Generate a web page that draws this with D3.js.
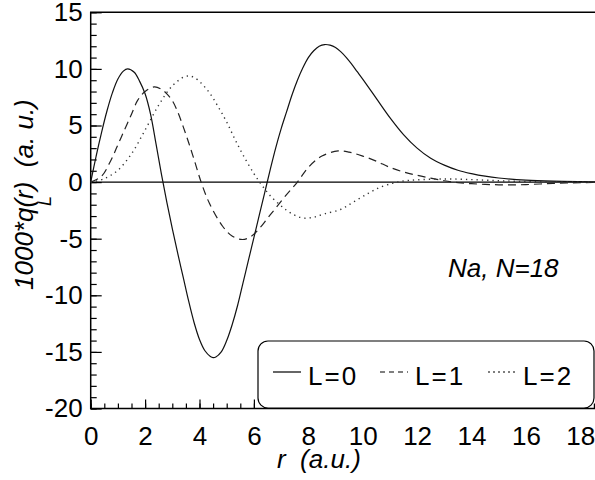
<!DOCTYPE html>
<meta charset="utf-8">
<head>
    <script src="https://d3js.org/d3.v7.min.js"></script>
</head>
<style>
    body { margin: 0; background: white; }
    text { font-family: 'Liberation Sans', Arial, sans-serif; fill: black; }
    .tick-label { font-size: 26px; }
    .axis-label { font-size: 26px; font-style: italic; white-space: pre; }
    .legend-label { font-size: 26px; letter-spacing: 2px; }
</style>
<div id="my_dataviz"></div>
<script>

    // radius grid (a.u.) and the three curves
    var rL0 = [0, 0.2, 0.4, 0.6, 0.8, 1.0, 1.2, 1.36, 1.6, 1.8, 2.0, 2.2, 2.4, 2.6, 2.8, 3.0, 3.2, 3.4, 3.6, 3.8, 4.0, 4.2, 4.4, 4.5, 4.6, 4.8, 5.0, 5.2, 5.4, 5.6, 5.8, 6.0, 6.2, 6.4, 6.6, 6.8, 7.0, 7.2, 7.4, 7.6, 7.8, 8.0, 8.2, 8.4, 8.6, 8.8, 9.0, 9.2, 9.4, 9.6, 9.8, 10.0, 10.5, 11.0, 11.5, 12.0, 12.5, 13.0, 13.5, 14.0, 14.5, 15.0, 16.0, 17.0, 18.0, 19.0];
    var qL0 = [0, 2.3, 4.4, 6.3, 7.9, 9.1, 9.8, 10.0, 9.7, 8.9, 7.8, 6.0, 3.4, 0.7, -1.8, -4.1, -6.3, -8.4, -10.5, -12.4, -13.9, -14.9, -15.4, -15.5, -15.45, -15.0, -14.0, -12.6, -10.9, -8.9, -6.9, -4.9, -2.9, -0.9, 1.1, 3.0, 4.7, 6.2, 7.7, 9.0, 10.1, 11.0, 11.6, 12.0, 12.15, 12.1, 11.9, 11.5, 11.0, 10.4, 9.75, 9.1, 7.4, 5.7, 4.2, 3.0, 2.1, 1.5, 1.05, 0.75, 0.52, 0.36, 0.17, 0.08, 0.04, 0.02];

    var rL1 = [0, 0.39, 0.75, 1.0, 1.24, 1.5, 1.73, 2.0, 2.34, 2.6, 2.8, 3.0, 3.2, 3.4, 3.6, 3.8, 4.06, 4.36, 4.85, 5.21, 5.58, 5.9, 6.2, 6.5, 6.8, 7.2, 7.6, 8.0, 8.5, 9.1, 9.5, 10.0, 10.5, 11.0, 11.5, 12.0, 12.5, 13.0, 13.5, 14.0, 14.5, 15.0, 15.5, 16.0, 16.5, 17.0, 17.5, 18.0, 19.0];
    var qL1 = [0, 0.5, 1.96, 3.3, 4.6, 6.0, 7.24, 8.0, 8.41, 8.2, 7.8, 7.2, 6.2, 4.9, 3.5, 2.0, 0, -1.85, -3.9, -4.78, -5.07, -4.8, -4.1, -3.2, -2.3, -1.1, 0, 1.3, 2.3, 2.75, 2.65, 2.3, 1.85, 1.3, 0.9, 0.6, 0.35, 0.12, -0.05, -0.14, -0.2, -0.24, -0.25, -0.22, -0.17, -0.12, -0.08, -0.05, -0.02];

    var rL2 = [0, 0.5, 1.0, 1.5, 2.0, 2.5, 3.0, 3.5, 3.8, 4.3, 4.7, 5.0, 5.3, 5.6, 6.0, 6.3, 6.6, 7.0, 7.4, 7.8, 8.2, 8.6, 9.2, 9.7, 10.2, 10.6, 11.1, 11.5, 12.0, 13.0, 14.0, 15.0, 16.0, 17.0, 18.0, 19.0];
    var qL2 = [0, 0.3, 1.05, 2.5, 4.6, 6.8, 8.5, 9.35, 9.25, 8.1, 6.6, 5.3, 3.8, 2.4, 0.75, -0.3, -1.2, -2.1, -2.8, -3.17, -3.1, -2.8, -2.4, -1.7, -1.0, -0.5, -0.1, 0.1, 0.2, 0.28, 0.22, 0.12, 0.05, 0.02, 0.01, 0];

    var seriesNames = ["L=0", "L=1", "L=2"];
    var xMajor = [0, 2, 4, 6, 8, 10, 12, 14, 16, 18];
    var yMajor = [-20, -15, -10, -5, 0, 5, 10, 15];

    var W = 595, H = 480;
    var plotLeft = 90.7, plotTop = 12.3, plotBottom = 408.5;

    var svg = d3.select("#my_dataviz")
        .append("svg")
        .attr("width", W)
        .attr("height", H);

    var x = d3.scaleLinear()
        .domain([0, 19])
        .range([plotLeft, plotLeft + 19 * 27.2]);

    var y = d3.scaleLinear()
        .domain([-20, 15])
        .range([plotBottom, plotTop]);

    // plain hyphen for negatives, like the original
    var fmt = function(d) { return String(d); };

    // minor + major ticks, pointing into the plot
    svg.append("g")
        .attr("transform", "translate(" + plotLeft + ",0)")
        .call(d3.axisLeft(y).tickValues(d3.range(-20, 16, 1)).tickSize(-6).tickFormat(""))
        .call(function(g) { g.select(".domain").remove(); });
    svg.append("g")
        .attr("transform", "translate(" + plotLeft + ",0)")
        .call(d3.axisLeft(y).tickValues(yMajor).tickSize(-11).tickPadding(8).tickFormat(fmt))
        .call(function(g) { g.select(".domain").remove(); })
        .selectAll("text").attr("class", "tick-label");

    svg.append("g")
        .attr("transform", "translate(0," + plotBottom + ")")
        .call(d3.axisBottom(x).tickValues(d3.range(0, 19, 0.5)).tickSize(-5).tickFormat(""))
        .call(function(g) { g.select(".domain").remove(); });
    svg.append("g")
        .attr("transform", "translate(0," + plotBottom + ")")
        .call(d3.axisBottom(x).tickValues(xMajor).tickSize(-9).tickPadding(18).tickFormat(fmt))
        .call(function(g) { g.select(".domain").remove(); })
        .selectAll("text").attr("class", "tick-label");

    svg.selectAll(".tick line").attr("stroke-width", 1.2);

    // frame: left, bottom, top
    svg.append("path")
        .attr("d", "M" + W + "," + plotTop + "H" + plotLeft + "V" + plotBottom + "H" + W)
        .attr("fill", "none")
        .attr("stroke", "black")
        .attr("stroke-width", 1.5);

    // zero line
    svg.append("line")
        .attr("x1", plotLeft).attr("x2", W)
        .attr("y1", y(0)).attr("y2", y(0))
        .attr("stroke", "black")
        .attr("stroke-width", 1.3);

    var line = d3.line()
        .x(function(d) { return x(d[0]); })
        .y(function(d) { return y(d[1]); })
        .curve(d3.curveCatmullRom);

    var styles = [
        {dash: null, width: 1.2, color: "#111"},
        {dash: "8,5", width: 1.2, color: "#222"},
        {dash: "1.3,4", width: 1.4, color: "#333"}
    ];
    var series = [d3.zip(rL0, qL0), d3.zip(rL1, qL1), d3.zip(rL2, qL2)];

    svg.append("g")
        .selectAll("path")
        .data(series)
        .enter()
        .append("path")
        .attr("d", line)
        .attr("fill", "none")
        .attr("stroke", function(d, i) { return styles[i].color; })
        .attr("stroke-width", function(d, i) { return styles[i].width; })
        .attr("stroke-dasharray", function(d, i) { return styles[i].dash; });

    // annotation
    svg.append("text")
        .attr("class", "axis-label")
        .attr("x", 448)
        .attr("y", 277)
        .text("Na, N=18");

    // axis labels
    svg.append("text")
        .attr("class", "axis-label")
        .attr("x", 277)
        .attr("y", 468)
        .text("r  (a.u.)");

    var yl = svg.append("text")
        .attr("class", "axis-label")
        .attr("transform", "rotate(-90)")
        .attr("x", -290)
        .attr("y", 33);
    yl.append("tspan").text("1000*q");
    yl.append("tspan").text("(r)");
    yl.append("tspan").text("  (a. u.)");

    svg.append("text")
        .attr("class", "axis-label")
        .attr("transform", "rotate(-90)")
        .attr("x", -201)
        .attr("y", 51)
        .attr("text-anchor", "middle")
        .style("font-size", "18px")
        .text("L");

    // legend
    var lg = svg.append("g");
    lg.append("rect")
        .attr("x", 258).attr("y", 341)
        .attr("width", 336).attr("height", 67)
        .attr("rx", 10)
        .attr("fill", "white")
        .attr("stroke", "black")
        .attr("stroke-width", 1.2);

    var legX = [273, 380, 488];
    var legendDash = [null, "5,4", "2,3"];
    seriesNames.forEach(function(name, i) {
        lg.append("line")
            .attr("x1", legX[i]).attr("x2", legX[i] + 28)
            .attr("y1", 372).attr("y2", 372)
            .attr("stroke", "black")
            .attr("stroke-width", 1.2)
            .attr("stroke-dasharray", legendDash[i]);
        lg.append("text")
            .attr("class", "legend-label")
            .attr("x", legX[i] + 35)
            .attr("y", 385)
            .text(name);
    });

</script>
